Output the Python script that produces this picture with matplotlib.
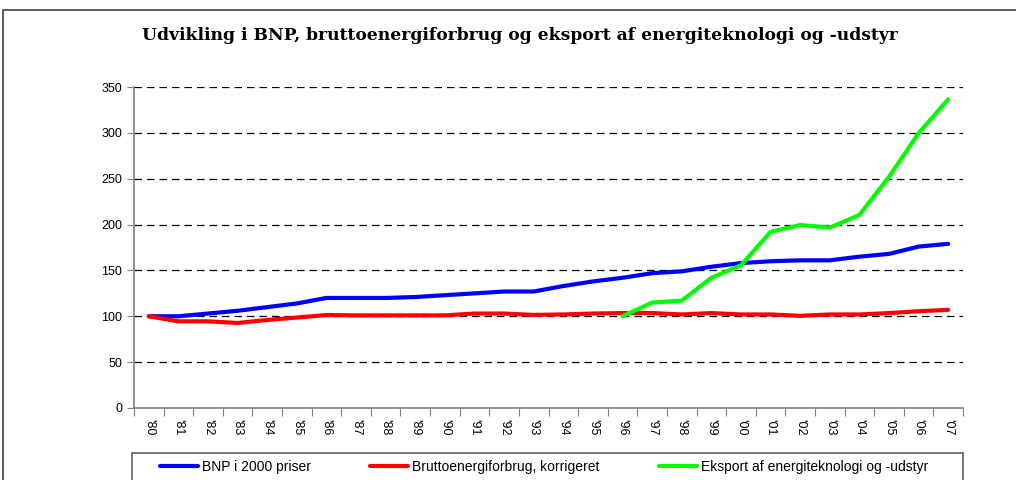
import matplotlib.pyplot as plt
import numpy as np
from matplotlib.patches import Rectangle

years = ["'80", "'81", "'82", "'83", "'84", "'85", "'86", "'87", "'88", "'89",
         "'90", "'91", "'92", "'93", "'94", "'95", "'96", "'97", "'98", "'99",
         "'00", "'01", "'02", "'03", "'04", "'05", "'06", "'07"]

bnp = [100, 100, 103, 106, 110, 114, 120, 120, 120, 121,
       123, 125, 127, 127, 133, 138, 142, 147, 149, 154,
       158, 160, 161, 161, 165, 168, 176, 179]

energi = [100, 94.5, 94.5, 92.7, 96, 98.6, 101.4, 101, 101, 101,
          101, 103, 103, 101.5, 102, 103, 103.5, 103.5, 102, 103.5,
          102, 102, 100.5, 102, 102, 103.5, 105.5, 107]

eksport = [np.nan] * 16 + [100, 115, 117, 142, 155.6, 192, 199.5, 196.7,
                           210.5, 252, 299.6, 336.6]

plt.rcParams['font.family'] = ['Liberation Sans', 'DejaVu Sans']

W, H = 1016, 480
fig = plt.figure(figsize=(W / 100, H / 100), dpi=100)

# outer frame of the chart area (cut off at right/bottom like the source)
fig.patches.append(Rectangle((3 / W, -0.1), 1.2, 1 - 10 / H + 0.1,
                             transform=fig.transFigure, fill=False,
                             edgecolor='#404040', linewidth=1.2))

ax = fig.add_axes([134 / W, 1 - 408 / H, (963 - 134) / W, (408 - 87) / H])

x = np.arange(len(years))
ax.plot(x, bnp, color='#0000FF', linewidth=3, label='BNP i 2000 priser',
        solid_capstyle='round', zorder=3)
ax.plot(x, energi, color='#FF0000', linewidth=3,
        label='Bruttoenergiforbrug, korrigeret', solid_capstyle='round', zorder=3)
ax.plot(x, eksport, color='#00FF00', linewidth=3,
        label='Eksport af energiteknologi og -udstyr', solid_capstyle='round', zorder=3)

ax.set_xlim(-0.5, len(years) - 0.5)
ax.set_ylim(0, 350)
ax.set_yticks(np.arange(0, 351, 50))
for yv in range(50, 351, 50):
    ax.axhline(yv, color='black', linestyle=(0, (6, 4)), linewidth=0.9, zorder=1)

ax.set_xticks(np.arange(-0.5, len(years)), minor=False)
ax.set_xticklabels([])
ax.set_xticks(x, minor=True)
ax.set_xticklabels(years, minor=True, rotation=270, fontsize=9)
ax.tick_params(axis='x', which='major', length=6, color='#808080')
ax.tick_params(axis='x', which='minor', length=0, pad=8)
ax.tick_params(axis='y', length=5, color='#808080', labelsize=9)

for s in ['top', 'right']:
    ax.spines[s].set_visible(False)
for s in ['left', 'bottom']:
    ax.spines[s].set_color('#808080')
    ax.spines[s].set_linewidth(1.2)

fig.text(520 / W, 1 - 36 / H,
         'Udvikling i BNP, bruttoenergiforbrug og eksport af energiteknologi og -udstyr',
         ha='center', va='center', fontsize=12.3, fontweight='bold',
         family=['DejaVu Serif'])

# legend box, cut off at the bottom
fig.patches.append(Rectangle((132 / W, -0.1), (963 - 132) / W, 1 - 453 / H + 0.1,
                             transform=fig.transFigure, fill=False,
                             edgecolor='#606060', linewidth=1.2))
fig.legend(loc='center left', bbox_to_anchor=(160 / W, 1 - 467 / H),
           ncol=3, frameon=False, fontsize=10, handlelength=2.7,
           handletextpad=0.3, columnspacing=4.3, borderaxespad=0, borderpad=0)

fig.savefig('out.png', dpi=100)
